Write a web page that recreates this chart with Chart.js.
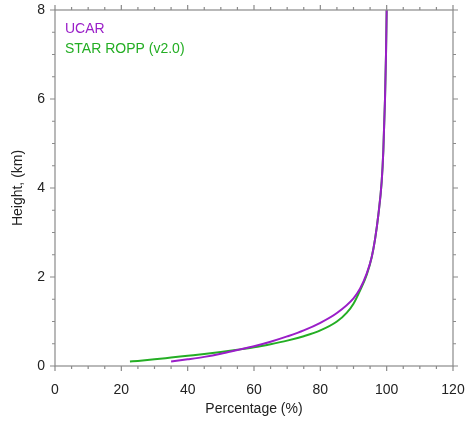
<!DOCTYPE html>
<html>
<head>
<meta charset="utf-8">
<script src="https://cdn.jsdelivr.net/npm/chart.js@4/dist/chart.umd.min.js"></script>
<style>
  html, body { margin: 0; padding: 0; background: #fff; }
  #wrap { width: 465px; height: 422px; }
</style>
</head>
<body>
<div id="wrap"><canvas id="profile"></canvas></div>
<script>
// percentage and height (km) along each profile
const ucar_pct    = [35, 40, 45, 50, 55, 60, 65, 70, 75, 80, 85, 90, 92, 94, 95.5, 96.5, 97.5, 98.5, 99.0, 99.5, 99.8, 100];
const ucar_height = [0.10, 0.15, 0.205, 0.275, 0.36, 0.445, 0.545, 0.665, 0.80, 0.97, 1.19, 1.52, 1.74, 2.08, 2.45, 2.85, 3.40, 4.15, 4.85, 6.00, 7.00, 8.00];

const ropp_pct    = [22.6, 25, 30, 35, 40, 45, 50, 55, 60, 65, 70, 75, 80, 85, 88, 90, 92, 94, 95.5, 96.5, 97.5, 98.5, 99.0, 99.5, 99.8, 100];
const ropp_height = [0.10, 0.115, 0.15, 0.19, 0.23, 0.27, 0.315, 0.365, 0.42, 0.49, 0.57, 0.67, 0.80, 1.00, 1.20, 1.40, 1.70, 2.05, 2.45, 2.85, 3.40, 4.15, 4.85, 6.00, 7.00, 8.00];

const series_names = ['UCAR', 'STAR ROPP (v2.0)'];
const series_colors = ['#9a1ec8', '#24ae24'];

const x_ticks = [0, 20, 40, 60, 80, 100, 120];
const y_ticks = [0, 2, 4, 6, 8];

let toPoints = function(xs, ys) {
    let pts = [];
    xs.forEach((x, i) => {
        pts.push({x: x, y: ys[i]});
    });
    return pts;
};

const axisColor = '#8a8a8a';
const textColor = '#222';
const fontFamily = '"Liberation Sans", Arial, sans-serif';

// frame around the plot with outward major/minor ticks on all four sides
const frameTicks = {
    id: 'frameTicks',
    afterDraw(chart) {
        const ctx = chart.ctx;
        const a = chart.chartArea;
        const sx = chart.scales.x;
        const sy = chart.scales.y;
        ctx.save();
        ctx.strokeStyle = axisColor;
        ctx.lineWidth = 1.2;
        ctx.strokeRect(a.left, a.top, a.right - a.left, a.bottom - a.top);
        ctx.beginPath();
        for (let v = 0; v <= 120; v += 5) {
            const px = sx.getPixelForValue(v);
            const len = (v % 20 === 0) ? 5 : 3;
            ctx.moveTo(px, a.bottom);
            ctx.lineTo(px, a.bottom + len);
            ctx.moveTo(px, a.top);
            ctx.lineTo(px, a.top - len);
        }
        for (let v = 0; v <= 8; v += 0.5) {
            const py = sy.getPixelForValue(v);
            const len = (v % 2 === 0) ? 5 : 3;
            ctx.moveTo(a.left, py);
            ctx.lineTo(a.left - len, py);
            ctx.moveTo(a.right, py);
            ctx.lineTo(a.right + len, py);
        }
        ctx.stroke();
        ctx.restore();
    },
    afterDatasetsDraw(chart) {
        // coloured legend text in the upper left corner
        const ctx = chart.ctx;
        const a = chart.chartArea;
        ctx.save();
        ctx.font = '14px ' + fontFamily;
        ctx.textBaseline = 'middle';
        chart.data.datasets.forEach((ds, i) => {
            ctx.fillStyle = ds.borderColor;
            ctx.fillText(ds.label, a.left + 10, a.top + 19 + i * 20);
        });
        ctx.restore();
    }
};

const config = {
    type: 'scatter',
    data: {
        datasets: [{
            label: series_names[0],
            data: toPoints(ucar_pct, ucar_height),
            borderColor: series_colors[0],
            borderWidth: 2,
            showLine: true,
            pointRadius: 0,
            cubicInterpolationMode: 'monotone'
        }, {
            label: series_names[1],
            data: toPoints(ropp_pct, ropp_height),
            borderColor: series_colors[1],
            borderWidth: 2,
            showLine: true,
            pointRadius: 0,
            cubicInterpolationMode: 'monotone'
        }]
    },
    options: {
        responsive: false,
        animation: false,
        layout: { padding: { top: 10, right: 12 } },
        plugins: {
            legend: { display: false },
            tooltip: { enabled: false }
        },
        scales: {
            x: {
                type: 'linear',
                min: 0,
                max: 120,
                afterBuildTicks: s => { s.ticks = x_ticks.map(v => ({value: v})); },
                afterFit: s => {
                    s.height = 56;
                    s.paddingLeft = 0;
                    s.paddingRight = 0;
                },
                grid: { display: false, drawTicks: false },
                border: { display: false },
                ticks: {
                    padding: 16,
                    color: textColor,
                    font: { family: fontFamily, size: 14 }
                },
                title: {
                    display: true,
                    text: 'Percentage (%)',
                    color: textColor,
                    padding: { top: 0, bottom: 4 },
                    font: { family: fontFamily, size: 14 }
                }
            },
            y: {
                type: 'linear',
                min: 0,
                max: 8,
                afterBuildTicks: s => { s.ticks = y_ticks.map(v => ({value: v})); },
                afterFit: s => {
                    s.width = 55;
                    s.paddingTop = 0;
                    s.paddingBottom = 0;
                },
                grid: { display: false, drawTicks: false },
                border: { display: false },
                ticks: {
                    padding: 10,
                    color: textColor,
                    font: { family: fontFamily, size: 14 }
                },
                title: {
                    display: true,
                    text: 'Height, (km)',
                    color: textColor,
                    padding: { top: 10, bottom: 0 },
                    font: { family: fontFamily, size: 14 }
                }
            }
        }
    },
    plugins: [frameTicks]
};

const canvas = document.getElementById('profile');
canvas.width = 465;
canvas.height = 422;
const chart = new Chart(canvas, config);
</script>
</body>
</html>
